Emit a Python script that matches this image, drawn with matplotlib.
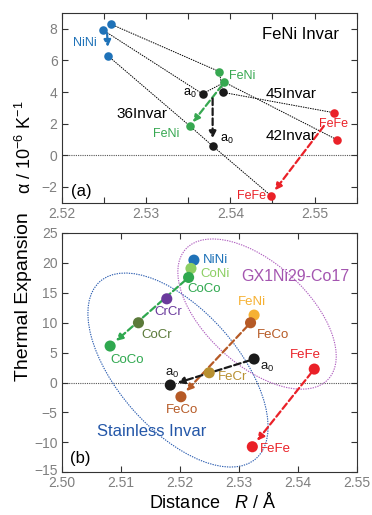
import matplotlib
matplotlib.use('Agg')
import matplotlib.pyplot as plt
from matplotlib.patches import Ellipse
from matplotlib.transforms import ScaledTranslation
from matplotlib.ticker import MultipleLocator

plt.rcParams['font.family'] = ['Liberation Sans', 'DejaVu Sans']
plt.rcParams['mathtext.fontset'] = 'custom'
plt.rcParams['mathtext.rm'] = 'Liberation Sans'
plt.rcParams['mathtext.it'] = 'Liberation Sans:italic'

# (a) FeNi Invar, order of the lists: 36Invar, 42Invar, 45Invar
alloys_a = ['36Invar', '42Invar', '45Invar']
r_nini_a = [2.5255, 2.5249, 2.5258]
alpha_nini_a = [6.28, 7.92, 8.30]
r_feni_a = [2.5352, 2.5393, 2.5387]
alpha_feni_a = [1.85, 4.62, 5.29]
r_a0_a = [2.5379, 2.5367, 2.5391]
alpha_a0_a = [0.59, 3.88, 3.98]
r_fefe_a = [2.5448, 2.5527, 2.5523]
alpha_fefe_a = [-2.55, 0.97, 2.69]

# (b) GX1Ni29-Co17 and Stainless Invar
bonds_gx = ['NiNi', 'CoNi', 'CoCo', 'FeNi', 'FeCo', 'a0', 'FeFe']
r_gx = [2.5224, 2.5219, 2.5215, 2.5326, 2.5320, 2.5326, 2.5428]
te_gx = [20.44, 19.05, 17.55, 11.26, 9.98, 3.92, 2.24]
bonds_si = ['CrCr', 'CoCr', 'CoCo', 'FeCr', 'a0', 'FeCo', 'FeFe']
r_si = [2.5178, 2.5130, 2.5082, 2.5250, 2.5184, 2.5202, 2.5323]
te_si = [13.98, 9.98, 6.09, 1.63, -0.43, -2.38, -10.73]

col_a = {'NiNi': '#1f72b8', 'FeNi': '#37a851', 'a0': '#1a1a1a', 'FeFe': '#ea2128'}
col_b = {'NiNi': '#1f72b8', 'CoNi': '#8ccf63', 'CoCo': '#2fa84f', 'FeNi': '#f6b133',
         'FeCo': '#b65a26', 'a0': '#1a1a1a', 'FeFe': '#ea2128', 'CrCr': '#6a3a9c',
         'CoCr': '#5b7a3a', 'FeCr': '#b89030'}
tick_gray = '#7f7f7f'


def style_axes(ax):
    for s in ax.spines.values():
        s.set_color('#333333')
        s.set_linewidth(0.8)
    ax.tick_params(which='both', direction='in', top=True, right=True, length=4,
                   width=0.8, color='#333333', labelcolor=tick_gray, labelsize=10, pad=3)


def arrow(ax, start, end, color, sa, sb):
    ax.annotate('', xy=end, xytext=start, zorder=2,
                arrowprops=dict(arrowstyle='-|>', color=color, lw=1.6, linestyle=(0, (3, 1.5)),
                                shrinkA=sa, shrinkB=sb, mutation_scale=10))


def label(ax, txt, x, y, dx, dy, color, ha, size=9):
    ax.annotate(txt, (x, y), xytext=(dx, -dy), textcoords='offset pixels',
                ha=ha, va='center', color=color, fontsize=size)


fig = plt.figure(figsize=(3.72, 5.15), dpi=100)
ax1 = fig.add_axes([0.166, 0.6064, 0.793, 0.3684])
ax2 = fig.add_axes([0.166, 0.0829, 0.793, 0.465])

# ---- panel (a)
for i in range(3):
    pts = sorted([(r_nini_a[i], alpha_nini_a[i]), (r_feni_a[i], alpha_feni_a[i]),
                  (r_a0_a[i], alpha_a0_a[i]), (r_fefe_a[i], alpha_fefe_a[i])])
    ax1.plot([p[0] for p in pts], [p[1] for p in pts], color='k', lw=0.7,
             linestyle=(0, (1.5, 1)), zorder=1)
ax1.axhline(0, color='#555555', lw=0.8, linestyle=(0, (1, 1)), zorder=1)

ax1.scatter(r_nini_a, alpha_nini_a, s=38, color=col_a['NiNi'], zorder=3, lw=0)
ax1.scatter(r_feni_a, alpha_feni_a, s=38, color=col_a['FeNi'], zorder=3, lw=0)
ax1.scatter(r_a0_a, alpha_a0_a, s=38, color=col_a['a0'], zorder=3, lw=0)
ax1.scatter(r_fefe_a, alpha_fefe_a, s=38, color=col_a['FeFe'], zorder=3, lw=0)

arrow(ax1, ((r_nini_a[1] + r_nini_a[2]) / 2, (alpha_nini_a[1] + alpha_nini_a[2]) / 2),
      (r_nini_a[0], alpha_nini_a[0]), col_a['NiNi'], 4.7, 6.5)
arrow(ax1, (r_feni_a[1], alpha_feni_a[1]), (r_feni_a[0], alpha_feni_a[0]), col_a['FeNi'], 2.5, 3.5)
arrow(ax1, ((r_a0_a[1] + r_a0_a[2]) / 2, (alpha_a0_a[1] + alpha_a0_a[2]) / 2),
      (r_a0_a[0], alpha_a0_a[0]), col_a['a0'], 3.8, 5.5)
arrow(ax1, (r_fefe_a[2], alpha_fefe_a[2]), (r_fefe_a[0], alpha_fefe_a[0]), col_a['FeFe'], 12, 4.7)

label(ax1, 'NiNi', r_nini_a[1], alpha_nini_a[1], -18, 13, col_a['NiNi'], 'center')
label(ax1, 'FeNi', r_feni_a[1], alpha_feni_a[1], 5, -6, col_a['FeNi'], 'left')
label(ax1, 'FeNi', r_feni_a[0], alpha_feni_a[0], -10, 8, col_a['FeNi'], 'right')
label(ax1, 'a$_0$', r_a0_a[1], alpha_a0_a[1], -6, 0, 'k', 'right')
label(ax1, 'a$_0$', r_a0_a[0], alpha_a0_a[0], 7, -6, 'k', 'left')
label(ax1, 'FeFe', r_fefe_a[2], alpha_fefe_a[2], 0, 11, col_a['FeFe'], 'center')
label(ax1, 'FeFe', r_fefe_a[0], alpha_fefe_a[0], -5, 0, col_a['FeFe'], 'right')

ax1.text(0.271, 0.468, alloys_a[0], transform=ax1.transAxes, ha='center', va='center', fontsize=11)
ax1.text(0.779, 0.352, alloys_a[1], transform=ax1.transAxes, ha='center', va='center', fontsize=11)
ax1.text(0.779, 0.573, alloys_a[2], transform=ax1.transAxes, ha='center', va='center', fontsize=11)
ax1.text(0.808, 0.884, 'FeNi Invar', transform=ax1.transAxes, ha='center', va='center', fontsize=12)
ax1.text(0.03, 0.06, '(a)', transform=ax1.transAxes, ha='left', va='center', fontsize=12)

ax1.set_xlim(2.52, 2.555)
ax1.set_ylim(-3, 9)
ax1.set_xticks([2.52, 2.53, 2.54, 2.55])
ax1.set_xticklabels(['2.52', '2.53', '2.54', '2.55'])
ax1.xaxis.set_minor_locator(MultipleLocator(0.005))
ax1.set_yticks([-2, 0, 2, 4, 6, 8])
style_axes(ax1)

# ---- panel (b)
ax2.axhline(0, color='#555555', lw=0.8, linestyle=(0, (1, 1)), zorder=1)

for cx, cy, w, h, ang, c in [(2.5197, 2.08, 2.36, 1.20, -48.6, '#2a5cb0'),
                             (2.5331, 11.43, 1.93, 1.02, -42.3, '#b060c0')]:
    e = Ellipse((0, 0), w, h, angle=ang, fill=False, ec=c, lw=0.8, linestyle=(0, (1.2, 1)),
                transform=fig.dpi_scale_trans + ScaledTranslation(cx, cy, ax2.transData))
    ax2.add_patch(e)

for a, b, c in [('CoCo', 'CoCo', col_b['CoCo']), ('FeCo', 'FeCo', col_b['FeCo']),
                ('a0', 'a0', col_b['a0']), ('FeFe', 'FeFe', col_b['FeFe'])]:
    i, j = bonds_gx.index(a), bonds_si.index(b)
    arrow(ax2, (r_gx[i], te_gx[i]), (r_si[j], te_si[j]), c, 3, 5.5)

ax2.scatter(r_gx, te_gx, s=64, color=[col_b[b] for b in bonds_gx], zorder=3, lw=0)
ax2.scatter(r_si, te_si, s=64, color=[col_b[b] for b in bonds_si], zorder=3, lw=0)

off_gx = [(9, 0, 'left'), (9, 6, 'left'), (-1, 12, 'left'), (-2, -13, 'center'),
          (6, 12, 'left'), (6, 8, 'left'), (-9, -14, 'center')]
off_si = [(1, 13, 'center'), (3, 12, 'left'), (0, 14, 'left'), (9, 4, 'left'),
          (2, -12, 'center'), (1, 13, 'center'), (8, 2, 'left')]
for names, rs, ts, offs in [(bonds_gx, r_gx, te_gx, off_gx), (bonds_si, r_si, te_si, off_si)]:
    for n, x, y, (dx, dy, ha) in zip(names, rs, ts, offs):
        txt = 'a$_0$' if n == 'a0' else n
        label(ax2, txt, x, y, dx, dy, col_b[n], ha, 9.5)

ax2.text(0.791, 0.816, 'GX1Ni29-Co17', transform=ax2.transAxes, ha='center', va='center',
         fontsize=11.5, color='#a455b0')
ax2.text(0.305, 0.169, 'Stainless Invar', transform=ax2.transAxes, ha='center', va='center',
         fontsize=12, color='#2457a8')
ax2.text(0.028, 0.058, '(b)', transform=ax2.transAxes, ha='left', va='center', fontsize=12)

ax2.set_xlim(2.50, 2.55)
ax2.set_ylim(-15, 25)
ax2.set_xticks([2.50, 2.51, 2.52, 2.53, 2.54, 2.55])
ax2.set_xticklabels(['2.50', '2.51', '2.52', '2.53', '2.54', '2.55'])
ax2.set_yticks([-15, -10, -5, 0, 5, 10, 15, 20, 25])
style_axes(ax2)

# lift the lowest y label a little so it clears the "2.50" below it
low = ax2.get_yticklabels()[0]
low.set_transform(low.get_transform() + ScaledTranslation(0, 3 / 100, fig.dpi_scale_trans))

fig.text(25 / 372, 1 - 147 / 515, r'α / 10$^{-6}$ K$^{-1}$', rotation=90, ha='center',
         va='center', fontsize=13)
fig.text(24 / 372, 1 - 297 / 515, 'Thermal Expansion', rotation=90, ha='center',
         va='center', fontsize=14)
fig.text(212 / 372, 1 - 502 / 515, r'Distance   $R$ / Å', ha='center', va='center', fontsize=13)

fig.savefig('out.png', dpi=100)
